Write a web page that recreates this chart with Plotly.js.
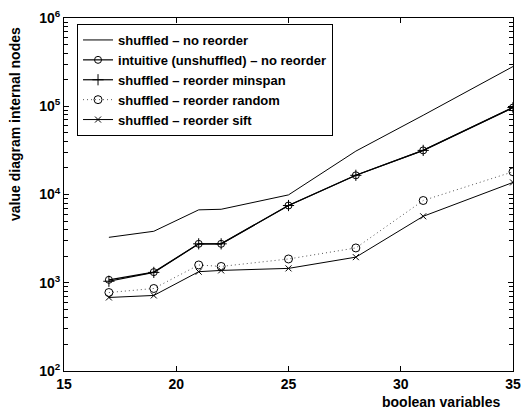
<!DOCTYPE html>
<html>
<head>
<meta charset="utf-8">
<script src="https://cdn.plot.ly/plotly-3.0.1.min.js"></script>
<style>html,body{margin:0;padding:0;background:#fff;}#chart{width:521px;height:411px;}</style>
</head>
<body>
<div id="chart"></div>
<script>
// ---- data ----
const booleanVariables = [17, 19, 21, 22, 25, 28, 31, 35];
const shuffledNoReorder = [3270, 3830, 6700, 6800, 9900, 31000, 79000, 282000];
const intuitiveNoReorder = [1080, 1320, 2760, 2760, 7500, 16500, 31600, 96700];
const shuffledMinspan = [1040, 1310, 2760, 2760, 7500, 16500, 31600, 96700];
const shuffledRandom = [775, 861, 1590, 1530, 1860, 2480, 8550, 18100];
const shuffledSift = [681, 718, 1334, 1380, 1455, 1950, 5660, 13700];
const seriesNames = [
  "shuffled \u2013 no reorder",
  "intuitive (unshuffled) \u2013 no reorder",
  "shuffled \u2013 reorder minspan",
  "shuffled \u2013 reorder random",
  "shuffled \u2013 reorder sift"
];
const xTickVals = [15, 20, 25, 30, 35];
const yDecades = [2, 3, 4, 5, 6];

// ---- build ----
const yTickVals = yDecades.map(d => Math.pow(10, d));
const yTickText = yDecades.map(d => "10<sup>" + d + "</sup>");
const yMinor = [];
for (let d = 2; d < 6; d++) for (let m = 2; m <= 9; m++) yMinor.push(m * Math.pow(10, d));

const fontFam = "Liberation Sans, Arial, Helvetica, sans-serif";
const traces = [
  {x: booleanVariables, y: shuffledNoReorder, name: seriesNames[0], mode: "lines",
   line: {color: "#000", width: 1}},
  {x: booleanVariables, y: intuitiveNoReorder, name: seriesNames[1], mode: "lines+markers",
   line: {color: "#000", width: 1.2}, marker: {symbol: "circle-open", size: 7, color: "#000", line: {width: 1}}},
  {x: booleanVariables, y: shuffledMinspan, name: seriesNames[2], mode: "lines+markers",
   line: {color: "#000", width: 1.2}, marker: {symbol: "cross-thin-open", size: 8, color: "#000", line: {width: 1, color: "#000"}}},
  {x: booleanVariables, y: shuffledRandom, name: seriesNames[3], mode: "lines+markers",
   line: {color: "#555", width: 1, dash: "1px,3px"}, marker: {symbol: "circle-open", size: 8, color: "#000", line: {width: 1}}},
  {x: booleanVariables, y: shuffledSift, name: seriesNames[4], mode: "lines+markers",
   line: {color: "#000", width: 1}, marker: {symbol: "x-thin-open", size: 6, color: "#000", line: {width: 1, color: "#000"}}}
];

const layout = {
  width: 521, height: 411,
  margin: {l: 64, r: 8, t: 18, b: 40},
  paper_bgcolor: "#fff", plot_bgcolor: "#fff",
  font: {family: fontFam, size: 14, color: "#000", weight: "bold"},
  showlegend: true,
  legend: {x: 0.029, y: 0.983, xanchor: "left", yanchor: "top",
           bgcolor: "#fff", bordercolor: "#000", borderwidth: 1,
           font: {family: fontFam, size: 13, color: "#000", weight: "bold"},
           tracegroupgap: 0},
  xaxis: {range: [15, 35], tickmode: "array", tickvals: xTickVals,
          ticks: "inside", ticklen: 5, tickcolor: "#000", showline: true, linecolor: "#000", linewidth: 1,
          mirror: "ticks", showgrid: false, zeroline: false,
          tickfont: {family: fontFam, size: 14, color: "#000", weight: "bold"}},
  yaxis: {type: "log", range: [2, 6], tickmode: "array", tickvals: yTickVals, ticktext: yTickText,
          ticks: "inside", ticklen: 5, tickcolor: "#000", showline: true, linecolor: "#000", linewidth: 1,
          mirror: "ticks", showgrid: false, zeroline: false,
          minor: {tickmode: "array", tickvals: yMinor, ticks: "inside", ticklen: 4, tickcolor: "#000"},
          tickfont: {family: fontFam, size: 14, color: "#000", weight: "bold"}},
  annotations: [
    {text: "boolean variables", xref: "paper", yref: "paper", x: 0.84, y: -0.088,
     xanchor: "center", yanchor: "middle", showarrow: false,
     font: {family: fontFam, size: 14, color: "#000", weight: "bold"}},
    {text: "value diagram internal nodes", xref: "paper", yref: "paper", x: -0.109, y: 0.70,
     xanchor: "center", yanchor: "middle", showarrow: false, textangle: -90,
     font: {family: fontFam, size: 14, color: "#000", weight: "bold"}}
  ]
};

Plotly.newPlot("chart", traces, layout, {displayModeBar: false, staticPlot: true});
</script>
</body>
</html>
